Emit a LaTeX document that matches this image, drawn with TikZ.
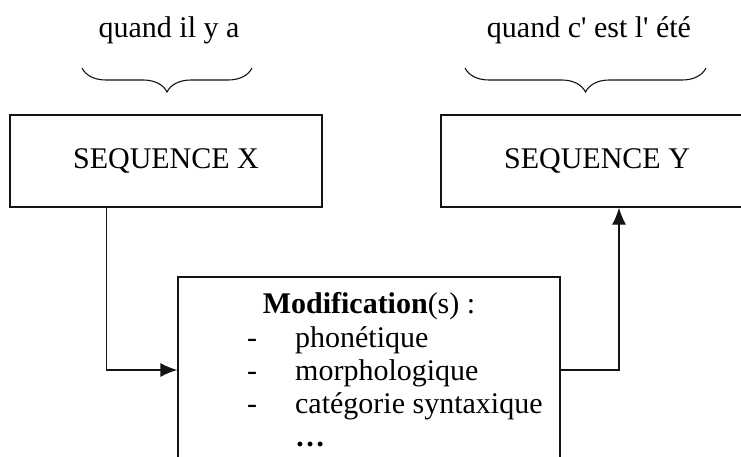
\documentclass[tikz,border=0pt]{standalone}
\usepackage{fontspec}
\setmainfont{Liberation Serif}
\usepackage{tikz}
\usetikzlibrary{
  arrows.meta,
  positioning,
  decorations.pathreplacing
}
\definecolor{linecolor}{RGB}{20, 20, 20}
\definecolor{labelcolor}{RGB}{0, 0, 0}
\tikzset{
blocktext/.style={
  align=center,
  font=\fontsize{30}{33}\selectfont,
  text=labelcolor
},
seqblock/.style={
  draw=linecolor,
  line width=1.3pt,
  minimum width=312pt,
  minimum height=92pt,
  inner sep=0pt,
  blocktext
},
modblock/.style={
  draw=linecolor,
  line width=1.3pt,
  minimum width=382pt,
  minimum height=186pt,
  inner sep=0pt
},
listtext/.style={
  align=left,
  inner sep=0pt,
  font=\fontsize{30}{33}\selectfont,
  text=labelcolor
},
accolade/.style={
  decorate,
  decoration={brace, mirror, amplitude=24pt},
  line width=1.1pt,
  draw=linecolor
},
arrow/.style={
  -{Latex[length=17pt,width=14pt]},
  line width=1.3pt,
  draw=linecolor
}
}
\newcommand{\tiret}[1]{\makebox[48pt][l]{-}#1}

\begin{document}
\begin{tikzpicture}[x=1pt, y=-1pt]
      \path[use as bounding box] (0,0) rectangle (741,457);
      \clip (0,0) rectangle (741,457);

      \node[seqblock] (seqx) at (166,161) {SEQUENCE X};
      \node[seqblock] (seqy) at (597,161) {SEQUENCE Y};
      \node[modblock] (modif) at (369,370) {};

      % Braces and quoted words above
      \coordinate (bxa) at (82,68);
      \coordinate (bxb) at (252,68);
      \coordinate (bya) at (465,68);
      \coordinate (byb) at (706,68);
      \draw[accolade] (bxa) -- (bxb);
      \draw[accolade] (bya) -- (byb);
      \node[blocktext] (motsx) at (169,30) {quand il y a};
      \node[blocktext] (motsy) at (589,30)
        {quand c\textquotesingle{} est l\textquotesingle{} été};

      % Content of the modification box
      \node[blocktext, below=16pt of modif.north, inner sep=0pt]
        (titre) {\textbf{Modification}(s) :};
      \node[listtext, anchor=north west] (liste) at (247,326)
        {\tiret{phonétique}\\
         \tiret{morphologique}\\
         \tiret{catégorie syntaxique}\\
         \makebox[48pt][l]{}\textbf{\dots}};

      \draw[arrow] ([xshift=-59.5pt]seqx.south) |- (modif.west);
      \draw[arrow] (modif.east) -| ([xshift=22pt]seqy.south);
    \end{tikzpicture}
\end{document}
